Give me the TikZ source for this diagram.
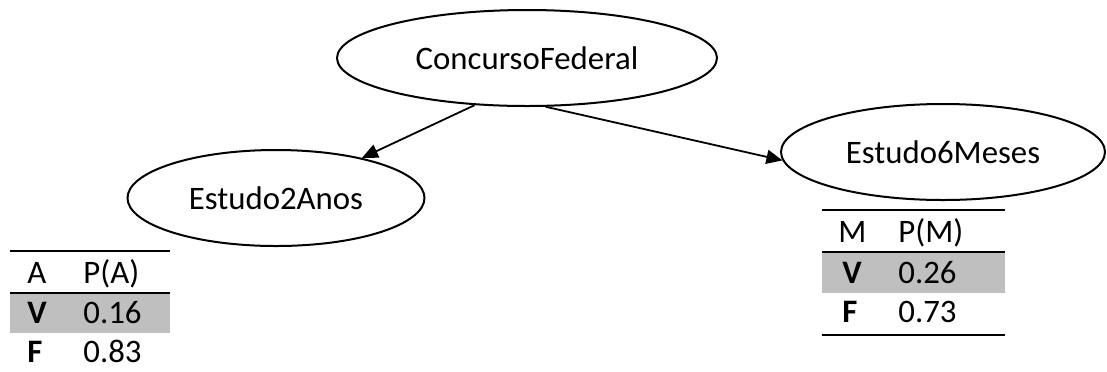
\documentclass[tikz,border=0pt]{standalone}
\usepackage{fontspec}
\setmainfont{Carlito}
\usetikzlibrary{shapes.geometric,arrows.meta}
\definecolor{cellgray}{RGB}{191,191,191}
\tikzset{
  var/.style={draw,ellipse,line width=1pt,inner sep=0pt,minimum height=48pt},
  edge/.style={line width=0.9pt,-{Triangle[length=8pt,width=7pt]}},
  rule/.style={line width=1.2pt},
  cell/.style={inner sep=0pt,anchor=base west},
}
\begin{document}
\begin{tikzpicture}[x=0.5pt,y=-0.5pt,font=\fontsize{16.4}{19}\selectfont]
\useasboundingbox (0,0) rectangle (1107,371);

% variables
\draw(527,58) node[var,minimum width=190pt] (cf) {ConcursoFederal};
\draw(276,198) node[var,minimum width=148.5pt] (e2a) {Estudo2Anos};
\draw(943,152) node[var,minimum width=162pt] (e6m) {Estudo6Meses};

\draw[edge] (cf.222) -- (e2a.25);
\draw[edge] (cf.-69) -- (e6m.183);

% table A
\fill[cellgray] (10,293) rectangle (170,333);
\draw[rule] (10,251) -- (170,251);
\draw[rule] (10,293) -- (170,293);
\draw(27,283) node[cell] (ha) {A};
\draw(83,283) node[cell] (hpa) {P(A)};
\draw(27,323) node[cell] (va) {\textbf{V}};
\draw(83,323) node[cell] (pva) {0.16};
\draw(27,362) node[cell] (fa) {\textbf{F}};
\draw(83,362) node[cell] (pfa) {0.83};

% table M
\fill[cellgray] (822,252) rectangle (1005,293);
\draw[rule] (822,210) -- (1005,210);
\draw[rule] (822,252) -- (1005,252);
\draw[rule] (822,335) -- (1005,335);
\draw(838,242) node[cell] (hm) {M};
\draw(898,242) node[cell] (hpm) {P(M)};
\draw(842,283) node[cell] (vm) {\textbf{V}};
\draw(898,283) node[cell] (pvm) {0.26};
\draw(842,322) node[cell] (fm) {\textbf{F}};
\draw(898,322) node[cell] (pfm) {0.73};
\end{tikzpicture}
\end{document}
